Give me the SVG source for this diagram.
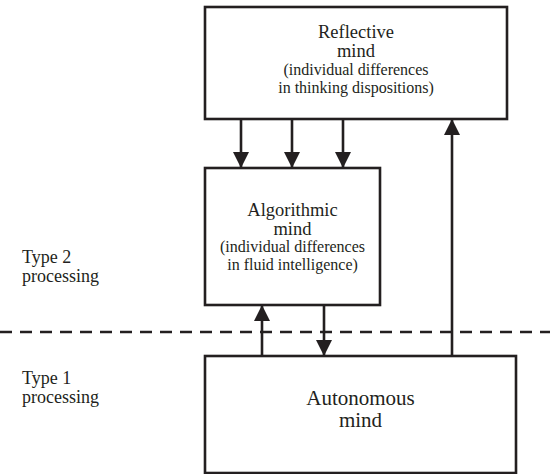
<svg xmlns="http://www.w3.org/2000/svg" width="550" height="474" viewBox="0 0 550 474">
<defs>
<style>
.box{fill:#fff;stroke:#231f20;stroke-width:2.6}
.ln{stroke:#231f20;stroke-width:2.6;fill:none}
.t{font-family:"Liberation Serif","Times New Roman",serif;fill:#231f20;text-anchor:middle}
.big{font-size:18.5px}
.sm{font-size:16px}
.lab{font-family:"Liberation Serif","Times New Roman",serif;fill:#231f20;font-size:18px}
</style>
<marker id="ah" markerUnits="userSpaceOnUse" markerWidth="16" markerHeight="16" viewBox="0 0 16 16" refX="16" refY="8" orient="auto">
<path d="M0,0 L16,8 L0,16 Z" fill="#231f20"/>
</marker>
</defs>
<rect width="550" height="474" fill="#fff"/>
<g id="divider">
<line x1="0" y1="332" x2="550" y2="332" stroke="#231f20" stroke-width="2.6" stroke-dasharray="12 8"/>
</g>
<g id="connectors">
<line class="ln" x1="241" y1="119" x2="241" y2="168" marker-end="url(#ah)"/>
<line class="ln" x1="292" y1="119" x2="292" y2="168" marker-end="url(#ah)"/>
<line class="ln" x1="343" y1="119" x2="343" y2="168" marker-end="url(#ah)"/>
<line class="ln" x1="262" y1="356" x2="262" y2="305" marker-end="url(#ah)"/>
<line class="ln" x1="324" y1="305" x2="324" y2="356" marker-end="url(#ah)"/>
<line class="ln" x1="452" y1="356" x2="452" y2="119" marker-end="url(#ah)"/>
</g>
<g id="reflective">
<rect class="box" x="205" y="7" width="302" height="112"/>
<text class="t big" x="356" y="38">Reflective</text>
<text class="t big" x="356" y="57">mind</text>
<text class="t sm" x="356" y="75">(individual differences</text>
<text class="t sm" x="356" y="93">in thinking dispositions)</text>
</g>
<g id="algorithmic">
<rect class="box" x="205" y="168" width="175" height="137"/>
<text class="t big" x="292.5" y="216">Algorithmic</text>
<text class="t big" x="292.5" y="235">mind</text>
<text class="t sm" x="292.5" y="252">(individual differences</text>
<text class="t sm" x="292.5" y="270">in fluid intelligence)</text>
</g>
<g id="autonomous">
<rect class="box" x="205" y="356" width="311" height="117"/>
<text class="t" font-size="21" x="360.5" y="405">Autonomous</text>
<text class="t" font-size="21" x="360.5" y="427">mind</text>
</g>
<g id="labels">
<text class="lab" x="22" y="263">Type 2</text>
<text class="lab" x="22" y="282">processing</text>
<text class="lab" x="22" y="384">Type 1</text>
<text class="lab" x="22" y="403">processing</text>
</g>
</svg>
